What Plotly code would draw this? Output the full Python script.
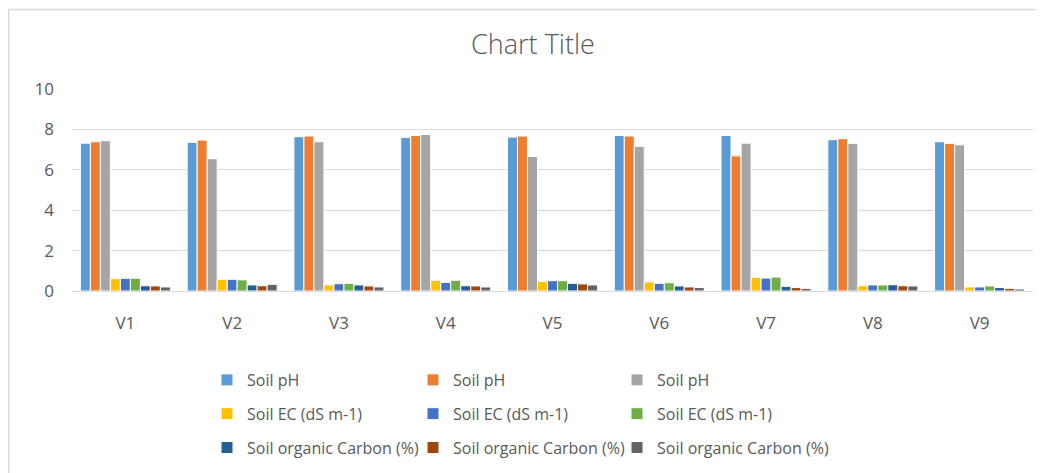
import plotly.graph_objects as go

categories = ["V1", "V2", "V3", "V4", "V5", "V6", "V7", "V8", "V9"]

ph_1 = [7.32, 7.36, 7.64, 7.60, 7.62, 7.70, 7.70, 7.49, 7.39]
ph_2 = [7.39, 7.47, 7.67, 7.70, 7.67, 7.67, 6.69, 7.54, 7.31]
ph_3 = [7.44, 6.55, 7.39, 7.75, 6.66, 7.16, 7.32, 7.31, 7.24]
ec_1 = [0.61, 0.58, 0.30, 0.53, 0.48, 0.45, 0.68, 0.26, 0.20]
ec_2 = [0.63, 0.58, 0.36, 0.43, 0.51, 0.38, 0.64, 0.30, 0.20]
ec_3 = [0.63, 0.55, 0.38, 0.53, 0.51, 0.41, 0.69, 0.30, 0.25]
oc_1 = [0.26, 0.30, 0.30, 0.26, 0.38, 0.25, 0.23, 0.31, 0.17]
oc_2 = [0.25, 0.26, 0.25, 0.25, 0.35, 0.20, 0.17, 0.26, 0.13]
oc_3 = [0.20, 0.33, 0.20, 0.20, 0.30, 0.17, 0.13, 0.25, 0.10]

series_names = ["Soil pH", "Soil pH", "Soil pH",
                "Soil EC (dS m-1)", "Soil EC (dS m-1)", "Soil EC (dS m-1)",
                "Soil organic Carbon (%)", "Soil organic Carbon (%)", "Soil organic Carbon (%)"]
series_values = [ph_1, ph_2, ph_3, ec_1, ec_2, ec_3, oc_1, oc_2, oc_3]
colors = ["#5B9BD5", "#ED7D31", "#A5A5A5", "#FFC000", "#4472C4", "#70AD47",
          "#255E91", "#9E480E", "#636363"]
legend_ids = ["legend", "legend2", "legend3"] * 3

# page offset (browser default body margin)
OFF = 8
W, H = 1044, 473
ml, mr, mt, mb = 64, 19, 81, 190
pw = W - ml - mr
ph = H - mt - mb

def px_x(p):
    return (p - OFF - ml) / pw

def px_y(p):
    return (H - mb - (p - OFF)) / ph

FONT = "Open Sans"
TXT = "#595959"

fig = go.Figure()
for i, (name, vals, col) in enumerate(zip(series_names, series_values, colors)):
    fig.add_trace(go.Bar(
        x=categories, y=vals, name=name,
        marker=dict(color=col, line=dict(color="white", width=1)),
        legend=legend_ids[i], legendgroup=f"g{i}",
    ))

legend_common = dict(
    orientation="v", yanchor="top", xanchor="left",
    font=dict(family=FONT, size=16, color=TXT),
    bgcolor="rgba(0,0,0,0)", itemwidth=30, tracegroupgap=10,
    itemclick=False, itemdoubleclick=False,
)

fig.update_layout(
    width=W, height=H,
    margin=dict(l=ml, r=mr, t=mt, b=mb, autoexpand=False),
    paper_bgcolor="white", plot_bgcolor="white",
    barmode="group", bargap=0.157, bargroupgap=0,
    title=dict(text="Chart Title", x=(533 - OFF) / W,
               xanchor="center", y=1 - (45 - OFF) / H, yanchor="middle",
               font=dict(family=FONT, size=27, color=TXT, weight=300)),
    font=dict(family=FONT, size=17, color=TXT),
    xaxis=dict(showgrid=False, showline=True, linecolor="#D9D9D9", linewidth=1,
               ticks="", ticklabelstandoff=17,
               tickfont=dict(family=FONT, size=17, color=TXT)),
    yaxis=dict(range=[0, 10], dtick=2, showgrid=True, gridcolor="#D9D9D9",
               gridwidth=1, zeroline=False, showline=False, ticks="",
               ticklabelstandoff=17,
               tickfont=dict(family=FONT, size=17, color=TXT)),
    legend=dict(x=px_x(207), y=px_y(363), **legend_common),
    legend2=dict(x=px_x(413), y=px_y(363), **legend_common),
    legend3=dict(x=px_x(617), y=px_y(363), **legend_common),
    shapes=[
        dict(type="rect", xref="paper", yref="paper",
             x0=px_x(8.75), x1=px_x(1070), y0=px_y(500), y1=px_y(9.5),
             line=dict(color="#D9D9D9", width=1.5), fillcolor="rgba(0,0,0,0)", layer="below"),
    ],
    showlegend=True,
)

fig.write_html("out.html")
